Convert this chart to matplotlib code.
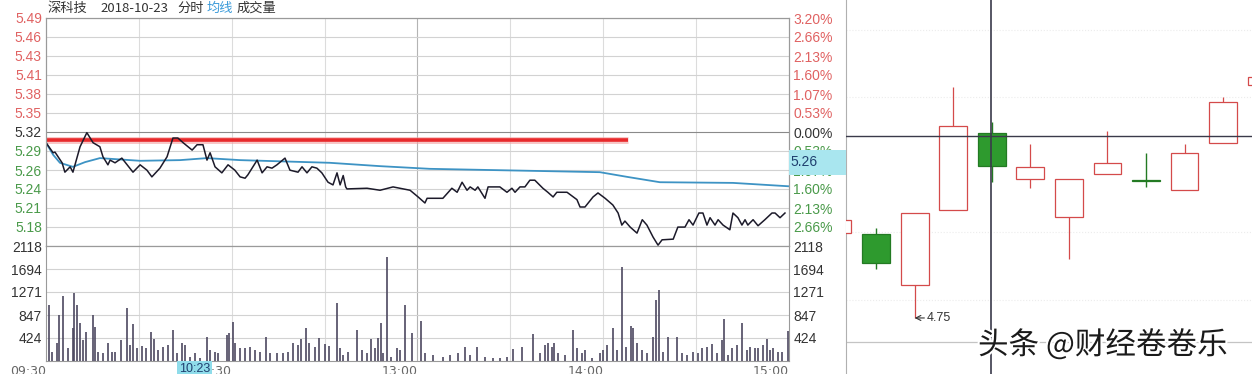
import matplotlib
matplotlib.use("Agg")
from matplotlib import pyplot as plt
from matplotlib import patheffects as pe
from matplotlib import transforms as mtrans
from matplotlib.patches import Rectangle

# ---- 分时数据 ----
prev_close = 5.32
price_t = [0, 2.3, 2.9, 5.2, 6.1, 7.8, 8.7, 11.0, 13.2, 15.2, 17.4, 18.4, 20.0, 20.7, 22.3,
           24.5, 26.2, 28.1, 30.4, 32.6, 34.2, 36.8, 39.1, 41.0, 42.6, 44.3, 47.2, 48.8,
           50.7, 52.0, 53.0, 54.6, 56.8, 58.8, 61.0, 62.7, 64.3, 65.2, 68.2, 69.8, 71.4,
           73.0, 74.6, 77.2, 78.8, 81.4, 82.7, 84.3, 85.9, 87.5, 89.1, 91.1, 92.7, 94.0,
           95.0, 96.0, 96.8, 97.2, 103.7, 107.9, 112.1, 117.6, 120.2, 122.4, 123.1, 128.2,
           131.1, 132.8, 134.4, 136.0, 137.0, 138.6, 139.5, 141.8, 142.8, 146.6, 148.9,
           150.5, 151.5, 153.1, 154.7, 156.3, 157.9, 160.5, 162.1, 163.8, 165.0, 168.3,
           171.5, 172.5, 174.1, 176.7, 178.3, 180.6, 183.1, 184.8, 186.0, 187.0, 188.7,
           190.9, 192.6, 194.1, 196.1, 197.7, 199.0, 202.6, 204.1, 206.4, 207.7, 209.0,
           210.9, 212.2, 213.5, 214.5, 216.1, 217.1, 218.7, 220.9, 221.9, 223.5, 224.8,
           225.8, 226.7, 228.4, 230.0, 232.2, 234.5, 235.5, 237.1, 238.7]
price_v = [5.304, 5.289, 5.290, 5.274, 5.260, 5.268, 5.260, 5.298, 5.319, 5.304, 5.298, 5.283,
           5.271, 5.278, 5.274, 5.281, 5.271, 5.260, 5.271, 5.263, 5.253, 5.266, 5.283, 5.311,
           5.311, 5.304, 5.293, 5.301, 5.301, 5.278, 5.289, 5.268, 5.259, 5.271, 5.263, 5.253,
           5.251, 5.256, 5.278, 5.259, 5.268, 5.266, 5.271, 5.281, 5.263, 5.260, 5.268, 5.259,
           5.268, 5.266, 5.259, 5.245, 5.241, 5.259, 5.241, 5.255, 5.238, 5.235, 5.236, 5.233,
           5.238, 5.233, 5.223, 5.214, 5.221, 5.221, 5.236, 5.230, 5.245, 5.233, 5.238, 5.233,
           5.238, 5.221, 5.238, 5.238, 5.230, 5.236, 5.230, 5.238, 5.238, 5.248, 5.248, 5.236,
           5.230, 5.223, 5.230, 5.230, 5.219, 5.208, 5.208, 5.223, 5.229, 5.221, 5.211, 5.199,
           5.181, 5.187, 5.178, 5.169, 5.189, 5.181, 5.163, 5.151, 5.159, 5.160, 5.178, 5.178,
           5.189, 5.181, 5.199, 5.199, 5.181, 5.192, 5.181, 5.189, 5.181, 5.174, 5.199, 5.192,
           5.181, 5.189, 5.181, 5.189, 5.180, 5.189, 5.199, 5.199, 5.192, 5.199]
avg_t = [0, 2.3, 4.5, 8.7, 12.6, 17.4, 30.4, 43.3, 52.0, 62.7, 91.7, 107.9, 124.0, 178.9,
         187.7, 198.3, 221.9, 239.7]
avg_v = [5.304, 5.286, 5.274, 5.268, 5.275, 5.281, 5.277, 5.278, 5.281, 5.278, 5.274, 5.269,
         5.265, 5.260, 5.253, 5.245, 5.244, 5.239]
red_level = 5.308
red_end = 188

vol_t = [1.1, 1.8, 3.4, 4.3, 5.6, 7.2, 8.6, 9.0, 9.9, 11.0, 11.8, 12.9, 15.3, 15.8, 16.9, 18.5,
         20.1, 21.2, 22.3, 24.1, 26.1, 27.1, 28.2, 29.3, 30.9, 32.2, 33.8, 34.9, 36.3, 37.9,
         39.5, 40.9, 42.2, 43.8, 44.9, 46.5, 48.1, 49.7, 51.9, 53.0, 54.6, 55.7, 58.4, 59.2,
         60.3, 61.0, 62.7, 64.3, 65.9, 67.5, 69.1, 71.1, 72.4, 74.5, 76.7, 78.3, 79.9, 81.5,
         82.4, 84.0, 85.1, 86.9, 88.3, 90.1, 91.5, 94.1, 95.0, 96.0, 97.7, 100.3, 102.0, 103.6,
         104.9, 106.3, 107.3, 108.1, 109.0, 110.0, 111.6, 113.3, 114.3, 116.0, 118.1, 121.0,
         122.4, 125.1, 128.3, 130.5, 133.2, 135.3, 136.9, 139.1, 141.8, 144.5, 146.6, 148.8,
         150.9, 153.6, 157.4, 159.6, 161.2, 162.3, 163.3, 164.1, 165.5, 167.6, 170.1, 171.4,
         173.0, 174.0, 176.3, 178.9, 180.0, 181.1, 183.2, 184.3, 185.9, 187.5, 189.0, 189.7,
         190.8, 192.4, 194.0, 196.2, 197.2, 198.0, 199.4, 201.0, 203.7, 205.3, 206.9, 209.1,
         210.7, 211.8, 213.4, 215.0, 216.6, 218.2, 219.1, 220.4, 221.5, 223.1, 224.9, 226.3,
         227.4, 229.0, 230.1, 231.7, 232.8, 233.9, 234.9, 236.6, 237.7, 239.6]
vol_v = [1032, 171, 326, 847, 1197, 234, 602, 1247, 1032, 694, 387, 540, 847, 632, 171, 142,
         337, 171, 171, 387, 982, 295, 676, 234, 276, 234, 540, 400, 203, 263, 295, 571, 142,
         326, 295, 79, 142, 50, 436, 203, 171, 142, 479, 510, 724, 326, 234, 234, 263, 203,
         171, 436, 142, 142, 142, 171, 326, 295, 400, 614, 326, 263, 429, 308, 276, 1063, 234,
         111, 171, 571, 203, 153, 400, 234, 418, 694, 142, 1910, 79, 234, 203, 1032, 510, 737,
         142, 111, 79, 111, 142, 263, 111, 263, 79, 50, 50, 79, 215, 263, 492, 142, 295, 326,
         263, 326, 142, 111, 571, 234, 142, 203, 50, 142, 203, 295, 602, 203, 1737, 263, 650,
         602, 326, 203, 142, 448, 1124, 1308, 171, 448, 448, 142, 111, 171, 142, 234, 263, 308,
         142, 387, 768, 111, 234, 295, 694, 203, 263, 234, 234, 295, 400, 203, 234, 171, 171,
         558]

left_labels = ['5.18', '5.21', '5.24', '5.26', '5.29', '5.32', '5.35', '5.38', '5.41', '5.43',
               '5.46', '5.49']
right_labels = ['2.66%', '2.13%', '1.60%', '1.07%', '0.53%', '0.00%', '0.53%', '1.07%',
                '1.60%', '2.13%', '2.66%', '3.20%']
vol_ticks = [424, 847, 1271, 1694, 2118]
time_ticks = [0, 60, 120, 180, 240]
time_labels = ['09:30', '10:30', '13:00', '14:00', '15:00']
cursor_t = 53
cursor_label = '10:23'

# ---- 日K数据 ----
k_open = [4.997, 4.994, 4.846, 5.064, 5.288, 5.154, 5.044, 5.169, 5.152, 5.122, 5.259, 5.428]
k_high = [5.035, 5.012, 5.055, 5.422, 5.320, 5.256, 5.154, 5.294, 5.230, 5.256, 5.393, 5.451]
k_low = [4.997, 4.893, 4.750, 5.064, 5.146, 5.128, 4.922, 5.169, 5.131, 5.122, 5.259, 5.428]
k_close = [5.035, 4.910, 5.055, 5.308, 5.192, 5.189, 5.154, 5.201, 5.149, 5.230, 5.378, 5.451]
cross_idx = 3.98
cross_price = 5.279

RED = '#e06262'
GREEN = '#4a9a4a'
GRID = '#d2d2d2'

W, H = 1252, 374


def box(l, t, r, b):
    return [l / W, 1 - b / H, (r - l) / W, (b - t) / H]


def label_color(y):
    if y > prev_close + 1e-6:
        return RED
    if y > prev_close - 1e-6:
        return '#333333'
    return GREEN


fig = plt.figure(figsize=(W / 100, H / 100), dpi=100)
fig.patch.set_facecolor('white')
num_font = ['Liberation Sans', 'DejaVu Sans']
cjk_font = ['Noto Sans CJK SC', 'DejaVu Sans']

ax_p = fig.add_axes(box(46, 18, 789, 246))
ax_v = fig.add_axes(box(46, 246, 789, 361))
ax_k = fig.add_axes(box(846, 0, 1252, 374))

# 价格区
lo, hi = prev_close * (1 - 0.032), prev_close * (1 + 0.032)
ticks = [prev_close * (1 + k * 0.032 / 6) for k in range(-5, 7)]
ax_p.set_xlim(0, 240)
ax_p.set_ylim(lo, hi)
for t in range(30, 240, 30):
    ax_p.axvline(t, color='#b4b4b4' if t == 120 else '#dcdcdc', lw=0.8, zorder=0)
    ax_v.axvline(t, color='#b4b4b4' if t == 120 else '#dcdcdc', lw=0.8, zorder=0)
for y in ticks:
    ax_p.axhline(y, color='#8a8a8a' if abs(y - prev_close) < 1e-6 else GRID, lw=0.8, zorder=0)
ax_p.plot([0, red_end], [red_level, red_level], color='#f3a0a0', lw=5, alpha=0.6,
          solid_capstyle='butt', zorder=2)
ax_p.plot([0, red_end], [red_level, red_level], color='#e8292b', lw=2.6,
          solid_capstyle='butt', zorder=2)
ax_p.plot(avg_t, avg_v, color='#3d93c4', lw=1.3, zorder=3)
ax_p.plot(price_t, price_v, color='#1c1a2a', lw=1.1, zorder=4)
ax_p.set_xticks([])
ax_p.set_yticks(ticks, left_labels)
ax_p.tick_params(axis='y', length=0, pad=3, labelsize=10)
for lab, y in zip(ax_p.get_yticklabels(), ticks):
    lab.set_fontfamily(num_font)
    lab.set_color(label_color(y))

ax_r = ax_p.twinx()
ax_r.set_ylim(lo, hi)
ax_r.set_yticks(ticks, right_labels)
ax_r.tick_params(axis='y', length=0, pad=3, labelsize=10)
for lab, y in zip(ax_r.get_yticklabels(), ticks):
    lab.set_fontfamily(num_font)
    lab.set_color(label_color(y))

# 成交量区
ax_v.set_xlim(0, 240)
ax_v.set_ylim(0, vol_ticks[-1])
for y in vol_ticks[:-1]:
    ax_v.axhline(y, color=GRID, lw=0.8, zorder=0)
ax_v.vlines(vol_t, 0, vol_v, color='#4d4860', lw=1.2, zorder=3)
ax_v.set_yticks(vol_ticks, [str(v) for v in vol_ticks])
ax_v.tick_params(axis='y', length=0, pad=3, labelsize=10, labelcolor='#333333',
                 labelright=True)
ax_v.set_xticks(time_ticks, time_labels)
ax_v.tick_params(axis='x', length=0, pad=3, labelsize=9, labelcolor='#666666')
for lab in ax_v.get_xticklabels():
    lab.set_horizontalalignment('right')
for lab in ax_v.get_yticklabels():
    lab.set_fontfamily(num_font)
trans = mtrans.blended_transform_factory(ax_v.transData, ax_v.transAxes)
ax_v.text(cursor_t, -0.02, cursor_label, transform=trans, ha='right', va='top', fontsize=9,
          color='#1f3f6f', family=num_font,
          bbox=dict(boxstyle='square,pad=0.15', facecolor='#8fdcea', edgecolor='none'))

for ax in (ax_p, ax_v, ax_r):
    for s in ax.spines.values():
        s.set_color('#9a9a9a')
        s.set_linewidth(0.8)

# 标题
fig.text(48 / W, 1 - 8 / H, '深科技', fontsize=9.5, color='#333333', family=cjk_font, va='center')
fig.text(100 / W, 1 - 8 / H, '2018-10-23', fontsize=9.5, color='#333333', family=cjk_font,
         va='center')
fig.text(177 / W, 1 - 8 / H, '分时', fontsize=9.5, color='#333333', family=cjk_font, va='center')
fig.text(207 / W, 1 - 8 / H, '均线', fontsize=9.5, color='#3a9ad9', family=cjk_font, va='center')
fig.text(237 / W, 1 - 8 / H, '成交量', fontsize=9.5, color='#333333', family=cjk_font,
         va='center')

# 右侧价格提示框
fig.patches.append(Rectangle((789 / W, 1 - 175 / H), 57 / W, 25 / H, transform=fig.transFigure,
                             facecolor='#a9e6ef', edgecolor='none', zorder=5))
fig.text(790 / W, 1 - 162 / H, '5.26', fontsize=10, color='#1f3f6f', family=num_font,
         va='center', zorder=6)

# 日K
ax_k.set_xlim(0.22, 10.75)
ax_k.set_ylim(4.587, 5.675)
ax_k.set_xticks([])
ax_k.set_yticks([])
for name, s in ax_k.spines.items():
    s.set_visible(name == 'left')
ax_k.spines['left'].set_color('#b0b0b0')
for y in (5.588, 5.393, 5.0, 4.802):
    ax_k.axhline(y, color='#ececec', lw=0.8, ls=':', zorder=0)
ax_k.axhline(4.68, color='#c4c4c4', lw=0.9, zorder=0)
bw = 0.72
for i, (o, h, l, c) in enumerate(zip(k_open, k_high, k_low, k_close)):
    if c >= o:
        col = '#d44a4a'
        ax_k.vlines(i, c, h, color=col, lw=0.9, zorder=2)
        ax_k.vlines(i, l, o, color=col, lw=0.9, zorder=2)
        ax_k.add_patch(Rectangle((i - bw / 2, o), bw, c - o, facecolor='white',
                                 edgecolor=col, lw=0.9, zorder=3))
    else:
        col = '#2e9a2e'
        ax_k.vlines(i, l, h, color='#237a23', lw=1.0, zorder=2)
        ax_k.add_patch(Rectangle((i - bw / 2, c), bw, max(o - c, 0.003), facecolor=col,
                                 edgecolor='#237a23', lw=0.9, zorder=3))
ax_k.axvline(cross_idx, color='#3a3a4a', lw=1.2, zorder=4)
ax_k.axhline(cross_price, color='#3a3a4a', lw=1.0, zorder=4)
low_i = k_low.index(min(k_low))
ax_k.annotate(f'{min(k_low):.2f}', xy=(low_i, min(k_low)), xytext=(9, 0),
              textcoords='offset points', ha='left', va='center', fontsize=9,
              color='#333333', family=num_font,
              arrowprops=dict(arrowstyle='->', color='#333333', lw=0.8,
                              shrinkA=0, shrinkB=0))

fig.text(978 / W, 1 - 345 / H, '头条 @财经卷卷乐', fontsize=22, family=cjk_font,
         color='#1a1a1a', va='center',
         path_effects=[pe.withStroke(linewidth=3, foreground='white')])

fig.savefig('out.png', dpi=100)
